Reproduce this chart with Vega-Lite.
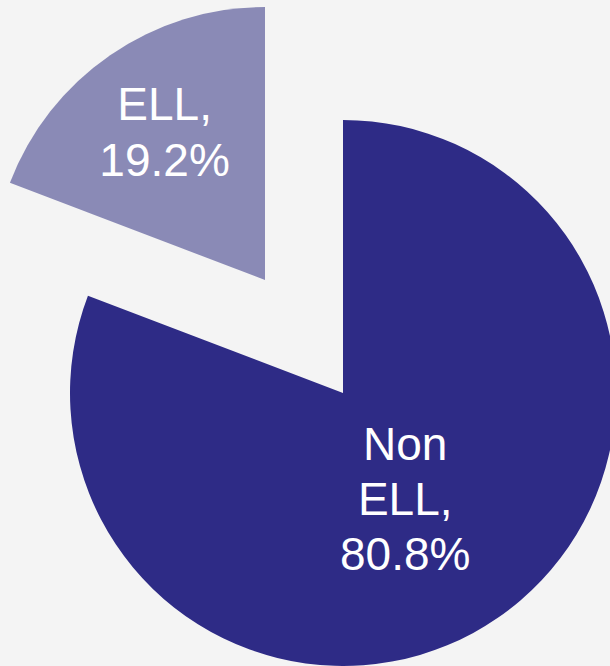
{
  "$schema": "https://vega.github.io/schema/vega-lite/v6.json",
  "width": 534,
  "height": 546,
  "autosize": {"type": "none"},
  "padding": {"left": 76, "top": 120, "right": 0, "bottom": 0},
  "background": "#f4f4f4",
  "config": {"view": {"stroke": null}},
  "data": {
    "values": [
      {"group": "Non ELL", "share": 80.8, "label": "Non ELL, 80.8%"},
      {"group": "ELL", "share": 19.2, "label": "ELL, 19.2%"}
    ]
  },
  "encoding": {
    "theta": {"field": "share", "type": "quantitative", "stack": true, "scale": {"domain": [0, 100]}},
    "order": {"field": "share", "type": "quantitative", "sort": "descending"}
  },
  "layer": [
    {
      "mark": {"type": "arc", "radius": 273},
      "encoding": {
        "color": {"field": "group", "type": "nominal", "scale": {"domain": ["Non ELL", "ELL"], "range": ["#2e2b86", "#8a8ab6"]}, "legend": null},
        "opacity": {"condition": {"test": "datum.group === 'Non ELL'", "value": 1}, "value": 0}
      }
    },
    {
      "mark": {"type": "arc", "radius": 273, "xOffset": -78, "yOffset": -113},
      "encoding": {
        "color": {"field": "group", "type": "nominal", "scale": {"domain": ["Non ELL", "ELL"], "range": ["#2e2b86", "#8a8ab6"]}, "legend": null},
        "opacity": {"condition": {"test": "datum.group === 'ELL'", "value": 1}, "value": 0}
      }
    },
    {
      "mark": {"type": "text", "radius": 122, "fontSize": 46, "font": "Liberation Sans", "color": "#ffffff", "lineBreak": " ", "lineHeight": 55, "dx": -7, "dy": -47},
      "encoding": {
        "text": {"condition": {"test": "datum.group === 'Non ELL'", "field": "label", "type": "nominal"}, "value": ""}
      }
    },
    {
      "mark": {"type": "text", "radius": 177, "fontSize": 46, "font": "Liberation Sans", "color": "#ffffff", "lineBreak": " ", "lineHeight": 56, "dy": -28, "xOffset": -78, "yOffset": -113},
      "encoding": {
        "text": {"condition": {"test": "datum.group === 'ELL'", "field": "label", "type": "nominal"}, "value": ""}
      }
    }
  ]
}
